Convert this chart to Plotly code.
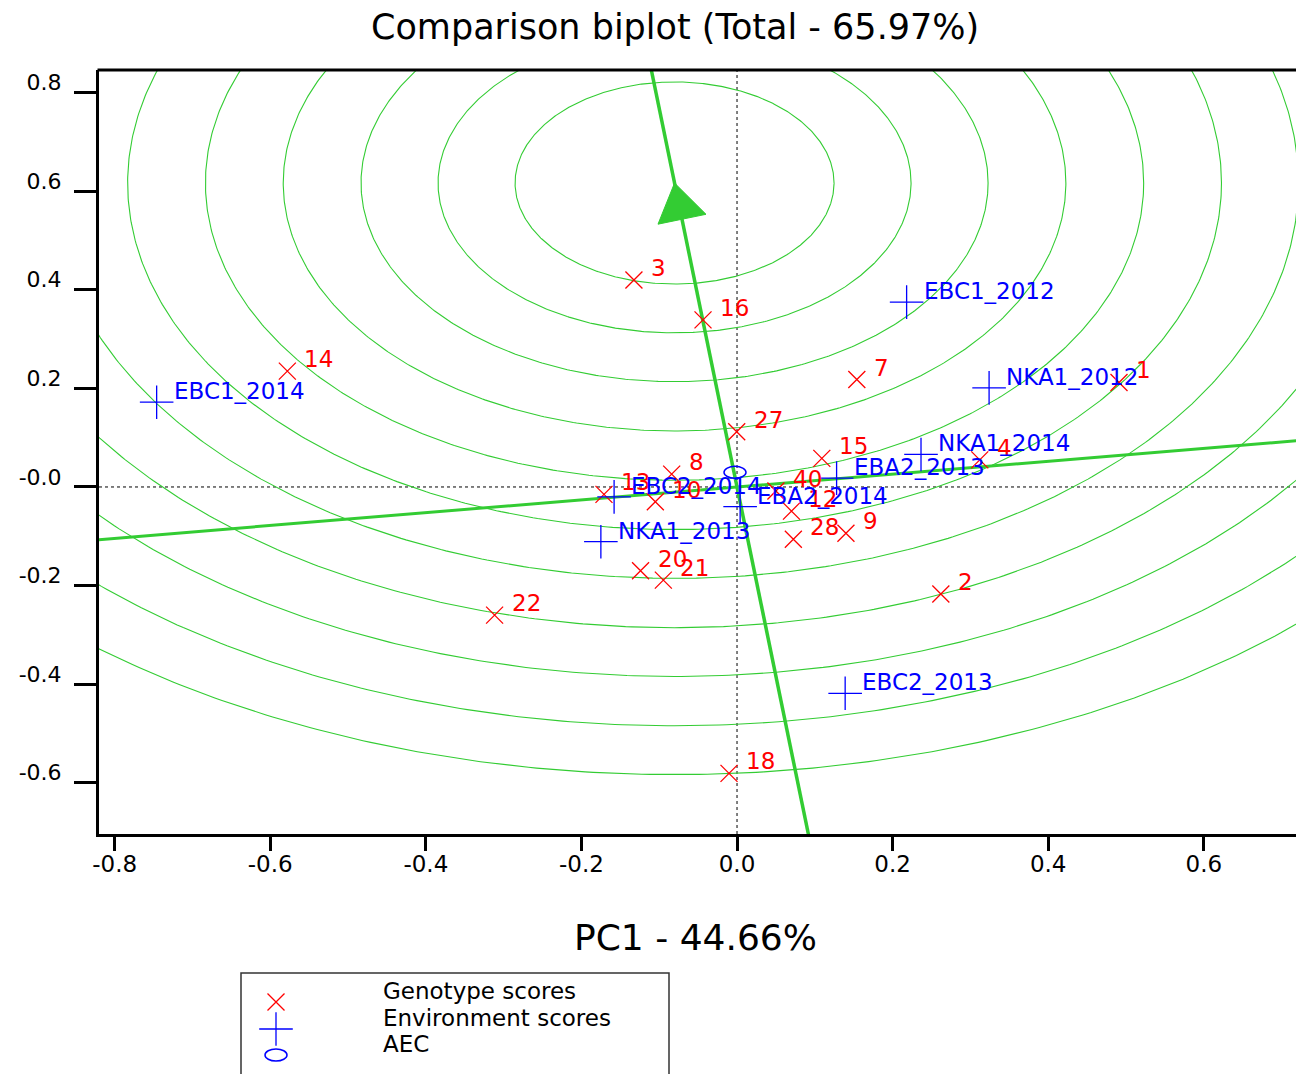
import numpy as np
import plotly.graph_objects as go

# ---------------- data ----------------
geno_labels = ["1", "2", "3", "4", "7", "8", "9", "10", "12", "13", "14", "15",
               "16", "18", "20", "21", "22", "27", "28", "40"]
geno_x = [0.491, 0.262, -0.1325, 0.312, 0.154, -0.084, 0.140, -0.105, 0.070, -0.171,
          -0.578, 0.109, -0.0437, -0.0103, -0.124, -0.0947, -0.3116, -0.0004, 0.0724, 0.050]
geno_y = [0.212, -0.217, 0.420, 0.055, 0.218, 0.026, -0.094, -0.030, -0.049, -0.015,
          0.235, 0.058, 0.339, -0.581, -0.170, -0.189, -0.260, 0.112, -0.106, -0.008]

env_labels = ["EBC1_2012", "NKA1_2012", "NKA1_2014", "EBA2_2013", "EBA2_2014",
              "EBC2_2014", "NKA1_2013", "EBC2_2013", "EBC1_2014"]
env_x = [0.218, 0.324, 0.2365, 0.128, 0.004, -0.158, -0.175, 0.139, -0.746]
env_y = [0.375, 0.201, 0.066, 0.018, -0.040, -0.020, -0.111, -0.4185, 0.172]

aec_x = -0.0026
aec_y = 0.0298

ideal_x = -0.0803
ideal_y = 0.6166
ring_radii = [0.205, 0.304, 0.403, 0.503, 0.603, 0.703, 0.802, 0.902, 1.001, 1.101, 1.200]

x_ticks = [-0.8, -0.6, -0.4, -0.2, 0.0, 0.2, 0.4, 0.6]
x_ticktext = ["-0.8", "-0.6", "-0.4", "-0.2", "0.0", "0.2", "0.4", "0.6"]
y_ticks = [0.8, 0.6, 0.4, 0.2, 0.0, -0.2, -0.4, -0.6]
y_ticktext = ["0.8", "0.6", "0.4", "0.2", "-0.0", "-0.2", "-0.4", "-0.6"]

title_text = "Comparison biplot (Total - 65.97%)"
xlabel_text = "PC1 - 44.66%"
legend_items = ["Genotype scores", "Environment scores", "AEC"]

# ---------------- layout constants ----------------
W, H = 1296, 1074
PL, PR, PT, PB = 99, 1296, 70, 834          # plot area in pixels
XR = [-0.8201, 0.7185]
YR = [-0.7039, 0.8458]
sx = (PR - PL) / (XR[1] - XR[0])
sy = (PB - PT) / (YR[1] - YR[0])

GREEN = "#33CC33"
RED = "#FF0000"
BLUE = "#0000FF"
FONT = "DejaVu Sans"

fig = go.Figure()

# concentric circles around the ideal point
th = np.linspace(0, 2 * np.pi, 721)
for r in ring_radii:
    fig.add_trace(go.Scatter(x=ideal_x + r * np.cos(th), y=ideal_y + r * np.sin(th),
                             mode="lines", line=dict(color=GREEN, width=1.1),
                             hoverinfo="skip", showlegend=False))

# AEC line through origin and ideal point, plus perpendicular
d = np.array([ideal_x, ideal_y]) / np.hypot(ideal_x, ideal_y)
t = np.array([-3.0, 3.0])
fig.add_trace(go.Scatter(x=t * d[0], y=t * d[1], mode="lines",
                         line=dict(color=GREEN, width=3.5), hoverinfo="skip", showlegend=False))
fig.add_trace(go.Scatter(x=t * d[1], y=-t * d[0], mode="lines",
                         line=dict(color=GREEN, width=3), hoverinfo="skip", showlegend=False))

# arrow head at the ideal point (built in pixel space, converted back to data)
u = np.array([ideal_x * sx, ideal_y * sy])
u = u / np.hypot(*u)
p = np.array([u[1], -u[0]])
apex = np.array([ideal_x * sx, ideal_y * sy])
base = apex - 37 * u
c1 = base + 24.5 * p
c2 = base - 24.5 * p
tri = np.array([apex, c1, c2, apex])
fig.add_trace(go.Scatter(x=tri[:, 0] / sx, y=tri[:, 1] / sy, mode="lines", fill="toself",
                         fillcolor=GREEN, line=dict(color=GREEN, width=1),
                         hoverinfo="skip", showlegend=False))

# genotype and environment markers
fig.add_trace(go.Scatter(x=geno_x, y=geno_y, mode="markers",
                         marker=dict(symbol="x-thin", size=17, line=dict(color=RED, width=1.3)),
                         showlegend=False))
fig.add_trace(go.Scatter(x=env_x, y=env_y, mode="markers",
                         marker=dict(symbol="cross-thin", size=24, line=dict(color=BLUE, width=1.3)),
                         showlegend=False))

annotations = []
for lab, x, y in zip(geno_labels, geno_x, geno_y):
    annotations.append(dict(x=x, y=y, xref="x", yref="y", text=lab, showarrow=False,
                            xanchor="left", yanchor="middle", xshift=15, yshift=12,
                            font=dict(family=FONT, size=23, color=RED)))
for lab, x, y in zip(env_labels, env_x, env_y):
    annotations.append(dict(x=x, y=y, xref="x", yref="y", text=lab, showarrow=False,
                            xanchor="left", yanchor="middle", xshift=15, yshift=11,
                            font=dict(family=FONT, size=23, color=BLUE)))

def px2paper_x(v):
    return v / W

def px2paper_y(v):
    return (H - v) / H

# title and axis label
annotations.append(dict(x=px2paper_x(675), y=px2paper_y(27), xref="paper", yref="paper",
                        text=title_text, showarrow=False, xanchor="center", yanchor="middle",
                        font=dict(family=FONT, size=35, color="black")))
annotations.append(dict(x=px2paper_x(695), y=px2paper_y(937), xref="paper", yref="paper",
                        text=xlabel_text, showarrow=False, xanchor="center", yanchor="middle",
                        font=dict(family=FONT, size=36, color="black")))

# legend texts
leg_text_y = [991, 1018, 1044]
for txt, yy in zip(legend_items, leg_text_y):
    annotations.append(dict(x=px2paper_x(381), y=px2paper_y(yy), xref="paper", yref="paper",
                            text=txt, showarrow=False, xanchor="left", yanchor="middle",
                            font=dict(family=FONT, size=23, color="black")))

shapes = [
    # dotted reference lines
    dict(type="line", xref="x", yref="paper", x0=0, x1=0,
         y0=px2paper_y(PB), y1=px2paper_y(PT), line=dict(color="black", width=1, dash="dot"),
         layer="below"),
    dict(type="line", xref="paper", yref="y", x0=px2paper_x(PL), x1=1, y0=0, y1=0,
         line=dict(color="black", width=1, dash="dot"), layer="below"),
    # top frame
    dict(type="line", xref="paper", yref="paper", x0=px2paper_x(PL - 1.5), x1=1,
         y0=px2paper_y(PT), y1=px2paper_y(PT), line=dict(color="black", width=3)),
    # AEC ellipse
    dict(type="circle", xref="x", yref="y", xsizemode="pixel", ysizemode="pixel",
         xanchor=aec_x, yanchor=aec_y, x0=-11, x1=11, y0=-6, y1=6,
         line=dict(color=BLUE, width=1.5)),
    # legend box
    dict(type="rect", xref="paper", yref="paper", x0=px2paper_x(241), x1=px2paper_x(669),
         y0=px2paper_y(973), y1=px2paper_y(1090), line=dict(color="#333333", width=1.5)),
    # legend AEC ellipse
    dict(type="circle", xref="paper", yref="paper", xsizemode="pixel", ysizemode="pixel",
         xanchor=px2paper_x(276), yanchor=px2paper_y(1055), x0=-11, x1=11, y0=-6, y1=6,
         line=dict(color=BLUE, width=1.5)),
]

# legend symbols on a pixel overlay axis
fig.add_trace(go.Scatter(x=[276], y=[1002], mode="markers", xaxis="x2", yaxis="y2",
                         marker=dict(symbol="x-thin", size=17, line=dict(color=RED, width=1.3)),
                         showlegend=False, hoverinfo="skip"))
fig.add_trace(go.Scatter(x=[276], y=[1029], mode="markers", xaxis="x2", yaxis="y2",
                         marker=dict(symbol="cross-thin", size=24, line=dict(color=BLUE, width=1.3)),
                         showlegend=False, hoverinfo="skip"))

fig.update_layout(
    width=W, height=H,
    margin=dict(l=0, r=0, t=0, b=0),
    paper_bgcolor="white", plot_bgcolor="rgba(0,0,0,0)",
    showlegend=False,
    xaxis=dict(domain=[PL / W, 1], range=XR, tickvals=x_ticks, ticktext=x_ticktext,
               showgrid=False, zeroline=False, showline=True, linecolor="black", linewidth=3,
               ticks="outside", ticklen=14, tickwidth=3, tickcolor="black",
               tickfont=dict(family=FONT, size=23, color="black"), automargin=False,
               ticklabelstandoff=-7, anchor="y"),
    yaxis=dict(domain=[(H - PB) / H, (H - PT) / H], range=YR, tickvals=y_ticks,
               ticktext=y_ticktext, showgrid=False, zeroline=False, showline=True,
               linecolor="black", linewidth=3, ticks="outside", ticklen=22, tickwidth=3,
               tickcolor="black", tickfont=dict(family=FONT, size=22, color="black"),
               ticklabelshift=-10, ticklabelstandoff=8, automargin=False, anchor="x"),
    xaxis2=dict(domain=[0, 1], range=[0, W], visible=False, anchor="y2"),
    yaxis2=dict(domain=[0, 1], range=[H, 0], visible=False, anchor="x2"),
    annotations=annotations,
    shapes=shapes,
)

fig.write_html("out.html")
